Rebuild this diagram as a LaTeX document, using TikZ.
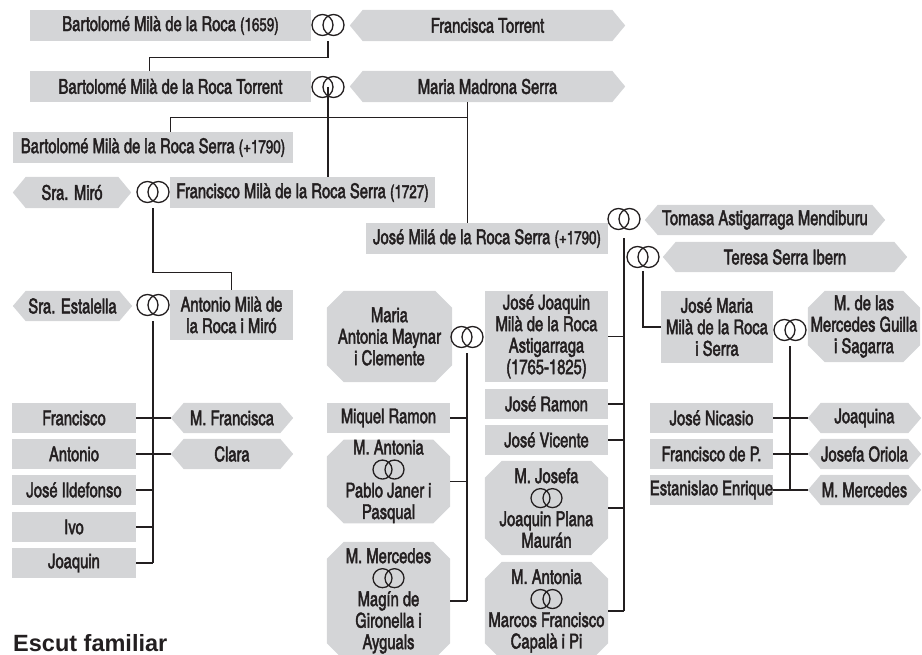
\documentclass[tikz,border=0pt]{standalone}
\usepackage{fontspec}
\setmainfont{TeX Gyre Heros Cn}[FakeStretch=0.88,FakeBold=2]
\newfontfamily\titlefont{Liberation Sans}
\usetikzlibrary{backgrounds,calc}
\definecolor{boxgray}{HTML}{D4D5D7}
\definecolor{ink}{HTML}{231F20}
\newcommand\ringsym{\tikz[baseline=-0.6ex,x=1pt,y=1pt]{\draw[ink,line width=1.3pt] (-5.5,0) circle[radius=10.5] (5.5,0) circle[radius=10.5];}}
\newcommand\ringsmall{\tikz[baseline=-0.6ex,x=1pt,y=1pt]{\draw[ink,line width=1.3pt] (-6,0) circle[radius=9.5] (6,0) circle[radius=9.5];}}
\newcommand\yr[1]{{\fontsize{18.5}{18.5}\selectfont #1}}
\newcommand\person[7]{\node[#1, minimum width={#4pt-#3pt}, minimum height={#6pt-#5pt}] (#2) at ({(#3+#4)/2},{(#5+#6)/2}) {#7};}
\newcommand\hexfill[1]{\fill[boxgray] ($(#1.north west)+(13,0)$) -- ($(#1.north east)+(-13,0)$) -- (#1.east) -- ($(#1.south east)+(-13,0)$) -- ($(#1.south west)+(13,0)$) -- (#1.west) -- cycle;}
\newcommand\octfill[1]{\fill[boxgray] ($(#1.north west)+(17,0)$) -- ($(#1.north east)+(-17,0)$) -- ($(#1.north east)+(0,17)$) -- ($(#1.south east)+(0,-17)$) -- ($(#1.south east)+(-17,0)$) -- ($(#1.south west)+(17,0)$) -- ($(#1.south west)+(0,-17)$) -- ($(#1.north west)+(0,17)$) -- cycle;}
\tikzset{
  pnode/.style={inner sep=0pt, align=center, text=ink, font=\fontsize{20.5}{21.5}\selectfont},
  rectbox/.style={pnode, fill=boxgray},
  hexbox/.style={pnode},
  octbox/.style={pnode},
  ringnode/.style={inner sep=0pt},
  link/.style={draw=ink, line width=1.3pt},
}
\begin{document}
\begin{tikzpicture}[x=1pt,y=-1pt]
\useasboundingbox (0,0) rectangle (922,655);
% generation 1
\person{rectbox}{b1659}{30}{311}{10}{41}{Bartolomé Milà de la Roca \yr{(1659)}}
\node[ringnode] (r1) at (328,25) {\ringsym};
\person{hexbox}{ftorrent}{350}{625}{10}{41}{Francisca Torrent}
% generation 2
\person{rectbox}{btorrent}{30}{311}{71}{102}{Bartolomé Milà de la Roca Torrent}
\node[ringnode] (r2) at (328,87) {\ringsym};
\person{hexbox}{mmserra}{350}{625}{71}{102}{Maria Madrona Serra}
% generation 3
\person{rectbox}{bserra}{13}{293}{132}{163}{Bartolomé Milà de la Roca Serra \yr{(+1790)}}
\person{hexbox}{smiro}{13}{131}{177}{208}{Sra. Miró}
\node[ringnode] (r3) at (153,192) {\ringsym};
\person{rectbox}{fserra}{170}{435}{177}{208}{Francisco Milà de la Roca Serra \yr{(1727)}}
\person{rectbox}{jserra}{366}{608}{223}{254}{José Milá de la Roca Serra \yr{(+1790)}}
\node[ringnode] (r4) at (624,219) {\ringsym};
\person{hexbox}{tomasa}{645}{885}{205}{235}{Tomasa Astigarraga Mendiburu}
\node[ringnode] (r5) at (643,257) {\ringsym};
\person{hexbox}{teresa}{663}{907}{242}{272}{Teresa Serra Ibern}
% generation 4
\person{hexbox}{sestalella}{13}{132}{291}{321}{Sra. Estalella}
\node[ringnode] (r6) at (153,305) {\ringsym};
\person{rectbox}{antonio}{170}{293}{290}{340}{Antonio Milà de\\la Roca i Miró}
\person{octbox}{mamaynar}{327}{452}{291}{382}{Maria\\Antonia Maynar\\i Clemente}
\node[ringnode] (r7) at (467,337) {\ringsym};
\person{rectbox}{jjoaquin}{485}{608}{291}{382}{José Joaquin\\Milà de la Roca\\Astigarraga\\(1765-1825)}
\person{rectbox}{jmaria}{661}{773}{291}{363}{José Maria\\Milà de la Roca\\i Serra}
\node[ringnode] (r8) at (790,330) {\ringsym};
\person{octbox}{mguilla}{808}{920}{291}{362}{M. de las\\Mercedes Guilla\\i Sagarra}
% children of Antonio
\person{rectbox}{francisco}{12}{136}{403}{433}{Francisco}
\person{rectbox}{antoniob}{12}{136}{439}{469}{Antonio}
\person{rectbox}{ildefonso}{12}{136}{475}{505}{José Ildefonso}
\person{rectbox}{ivo}{12}{136}{512}{542}{Ivo}
\person{rectbox}{joaquin}{12}{136}{548}{578}{Joaquin}
\person{hexbox}{mfrancisca}{171}{293}{403}{433}{M. Francisca}
\person{hexbox}{clara}{171}{293}{439}{469}{Clara}
% children of José Joaquin
\person{rectbox}{miquel}{327}{450}{403}{433}{Miquel Ramon}
\person{octbox}{mantoniaa}{327}{450}{440}{523}{M. Antonia\\\ringsmall\\Pablo Janer i\\Pasqual}
\person{octbox}{mmercedes}{327}{450}{542}{660}{M. Mercedes\\\ringsmall\\Magín de\\Gironella i\\Ayguals}
% children of José Milá
\person{rectbox}{jramon}{485}{608}{389}{419}{José Ramon}
\person{rectbox}{jvicente}{485}{608}{425}{455}{José Vicente}
\person{octbox}{mjosefa}{485}{608}{461}{555}{M. Josefa\\\ringsmall\\Joaquin Plana\\Maurán}
\person{octbox}{mantoniab}{485}{608}{562}{660}{M. Antonia\\\ringsmall\\Marcos Francisco\\Capalà i Pi}
% children of José Maria
\person{rectbox}{jnicasio}{650}{773}{403}{433}{José Nicasio}
\person{rectbox}{fdep}{650}{773}{439}{469}{Francisco de P.}
\person{rectbox}{estanislao}{650}{773}{475}{505}{Estanislao Enrique}
\person{hexbox}{joaquina}{808}{921}{403}{433}{Joaquina}
\person{hexbox}{josefaoriola}{808}{921}{439}{469}{Josefa Oriola}
\person{hexbox}{mmercedesb}{808}{921}{475}{505}{M. Mercedes}
% title
\node[anchor=base west, inner sep=0pt, text=ink, font=\titlefont\bfseries\fontsize{23.5}{24}\selectfont] (escut) at (13,651) {Escut familiar};
% backgrounds
\begin{scope}[on background layer]
\foreach \n in {ftorrent,mmserra,smiro,tomasa,teresa,sestalella,mfrancisca,clara,joaquina,josefaoriola,mmercedesb} {\hexfill{\n}}
\foreach \n in {mamaynar,mguilla,mantoniaa,mmercedes,mjosefa,mantoniab} {\octfill{\n}}
\end{scope}
% connectors
\draw[link] ([yshift=-5pt]r1.south) -- ++(0,16) -| ($(btorrent.north west)+(120,0)$);
\draw[link] (r2.center) -- (r2.center |- fserra.north);
\draw[link] ($(mmserra.south west)+(118,0)$) coordinate (m1) -- (m1 |- jserra.north);
\draw[link] ($(bserra.north west)+(158,0)$) -- ++(0,-14) -| (m1);
\draw[link] ([yshift=-5pt]r3.south) -- ++(0,64) -| (antonio.north);
\draw[link] ([yshift=-5pt]r6.south) -- (r6.south |- joaquin.east);
\draw[link] (francisco.east) -- (mfrancisca.west);
\draw[link] (antoniob.east) -- (clara.west);
\draw[link] (ildefonso.east) -- (ildefonso.east -| r6.south);
\draw[link] (ivo.east) -- (ivo.east -| r6.south);
\draw[link] (joaquin.east) -- (joaquin.east -| r6.south);
\draw[link] ([yshift=-5pt]r7.south) -- (r7.south |- mmercedes.east);
\draw[link] (miquel.east) -- (miquel.east -| r7.south);
\draw[link] (mantoniaa.east) -- (mantoniaa.east -| r7.south);
\draw[link] (mmercedes.east) -- (mmercedes.east -| r7.south);
\draw[link] ([yshift=-8pt]r4.south) -- (r4.south |- mantoniab.east);
\draw[link] (jjoaquin.east) -- (jjoaquin.east -| r4.south);
\draw[link] (jramon.east) -- (jramon.east -| r4.south);
\draw[link] (jvicente.east) -- (jvicente.east -| r4.south);
\draw[link] (mjosefa.east) -- (mjosefa.east -| r4.south);
\draw[link] (mantoniab.east) -- (mantoniab.east -| r4.south);
\draw[link] ([yshift=-3pt]r5.south) |- (jmaria.west);
\draw[link] ([yshift=-5pt]r8.south) -- (r8.south |- estanislao.east);
\draw[link] (jnicasio.east) -- (joaquina.west);
\draw[link] (fdep.east) -- (josefaoriola.west);
\draw[link] (estanislao.east) -- (mmercedesb.west);
\end{tikzpicture}
\end{document}
